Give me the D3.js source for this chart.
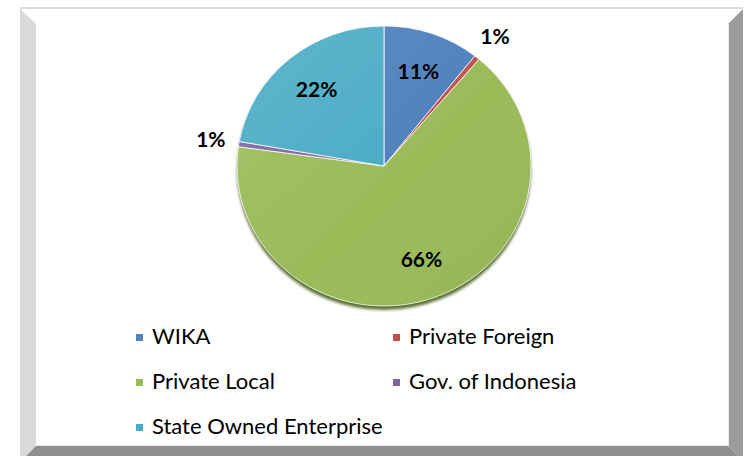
<!DOCTYPE html>
<html>
<head>
<meta charset="utf-8">
<style>
body { margin: 0; background: #fff; }
text { font-family: Lato, "Open Sans", sans-serif; }
.slice { stroke: #fff; stroke-width: 1px; stroke-opacity: 0.8; }
.pct { font-weight: bold; font-size: 21px; fill: #000; }
.legend text { font-size: 22px; fill: #000; }
</style>
</head>
<body>
<svg width="744" height="456"></svg>
<script src="https://cdn.jsdelivr.net/npm/d3@7"></script>
<script>

var categories = ["WIKA", "Private Foreign", "Private Local", "Gov. of Indonesia", "State Owned Enterprise"];
var values = [10.6, 0.6, 66.0, 0.6, 22.2];
var colors = ["#4f81bd", "#c0504d", "#9bbb59", "#8064a2", "#4bacc6"];

var svg = d3.select("svg");

// bevelled frame
var frame = svg.append("g");
frame.append("rect").attr("x", 20).attr("y", 7).attr("width", 723).attr("height", 2).attr("fill", "#dcdcdc");
frame.append("polygon").attr("points", "20,9 36,24 36,446 26,456 20,456").attr("fill", "#d9d9d9");
frame.append("polygon").attr("points", "26,456 36,446 728,446 738,456").attr("fill", "#8e8e8e");
frame.append("polygon").attr("points", "728,24 743,9 743,456 738,456 728,446").attr("fill", "#9c9c9c");
frame.append("line").attr("x1", 728.5).attr("x2", 728.5).attr("y1", 24).attr("y2", 446).attr("stroke", "#ececec");
frame.append("line").attr("x1", 36).attr("x2", 728).attr("y1", 445.5).attr("y2", 445.5).attr("stroke", "#ececec");

var cx = 384, cy = 166, r = 140, sx = 1.05;

var defs = svg.append("defs");
defs.append("filter").attr("id", "blur")
    .attr("x", "-10%").attr("y", "-10%").attr("width", "120%").attr("height", "120%")
  .append("feGaussianBlur").attr("stdDeviation", 1.6);

var shade = defs.append("linearGradient").attr("id", "shade")
    .attr("x1", "0").attr("y1", "0").attr("x2", "1").attr("y2", "1");
shade.append("stop").attr("offset", "0").attr("stop-color", "#fff").attr("stop-opacity", 0.12);
shade.append("stop").attr("offset", "0.55").attr("stop-color", "#fff").attr("stop-opacity", 0);
shade.append("stop").attr("offset", "1").attr("stop-color", "#000").attr("stop-opacity", 0.07);

var pie = d3.pie().sort(null).value(function(d) { return d; });
var arcs = pie(values);
var arc = d3.arc().innerRadius(0).outerRadius(r);
var total = d3.sum(values);

// shadow under the pie
svg.append("ellipse")
    .attr("cx", cx).attr("cy", cy + 4)
    .attr("rx", r * sx).attr("ry", r)
    .attr("fill", "#5a7030")
    .attr("filter", "url(#blur)");

var g = svg.append("g").attr("transform", "translate(" + cx + "," + cy + ") scale(" + sx + ",1)");

g.selectAll("path.slice")
    .data(arcs)
  .enter().append("path")
    .attr("class", "slice")
    .attr("vector-effect", "non-scaling-stroke")
    .attr("fill", function(d, i) { return colors[i]; })
    .attr("d", arc);

g.append("circle").attr("r", r).attr("fill", "url(#shade)");

// percentage labels
var inner = d3.arc().innerRadius(100).outerRadius(100);
var outer = d3.arc().innerRadius(167).outerRadius(167);

svg.append("g").attr("transform", "translate(" + cx + "," + cy + ")")
  .selectAll("text")
    .data(arcs)
  .enter().append("text")
    .attr("class", "pct")
    .attr("text-anchor", "middle")
    .attr("dy", "0.36em")
    .attr("x", function(d) {
      var c = (d.value / total < 0.03 ? outer : inner).centroid(d);
      return c[0] * sx;
    })
    .attr("y", function(d) {
      return (d.value / total < 0.03 ? outer : inner).centroid(d)[1];
    })
    .text(function(d) { return Math.round(d.value / total * 100) + "%"; });

// legend, two columns
var legend = svg.append("g").attr("class", "legend")
  .selectAll("g")
    .data(categories)
  .enter().append("g")
    .attr("transform", function(d, i) {
      return "translate(" + (i % 2 ? 393 : 136) + "," + (344 + Math.floor(i / 2) * 45) + ")";
    });

legend.append("rect")
    .attr("y", -10).attr("width", 7).attr("height", 7)
    .attr("fill", function(d, i) { return colors[i]; });

legend.append("text")
    .attr("x", 16)
    .text(function(d) { return d; });

</script>
</body>
</html>
